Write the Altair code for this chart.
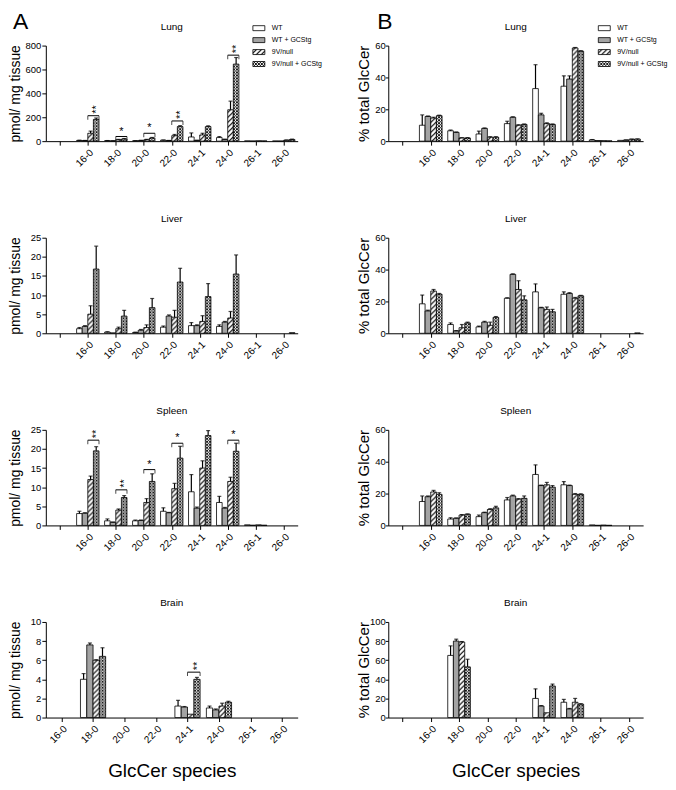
import altair as alt
import pandas as pd
import jinja2

FONT = "Liberation Sans"

categories = ["16-0", "18-0", "20-0", "22-0", "24-1", "24-0", "26-1", "26-0"]
series = ["WT", "WT + GCStg", "9V/null", "9V/null + GCStg"]
fills = ["#ffffff", "#a3a3a3", "url(#hatch9v) #cfcfcf", "url(#cross9v) #707070"]

# ---- Panel A: pmol / mg tissue (rows: WT, WT+GCStg, 9V/null, 9V/null+GCStg) ----
lung_a_mean = [[6, 4, 3, 8, 35, 30, 2, 1],
               [5, 2, 6, 5, 6, 14, 1, 1],
               [66, 12, 12, 46, 52, 263, 3, 8],
               [182, 18, 26, 122, 122, 645, 2, 14]]
lung_a_err = [[2, 1, 1, 2, 34, 8, 0, 0],
              [1, 1, 1, 1, 2, 3, 0, 0],
              [18, 3, 3, 10, 14, 72, 0, 2],
              [12, 4, 5, 8, 6, 55, 0, 3]]
lung_a_sig = [("16-0", 213, "**"), ("18-0", 39, "*"), ("20-0", 66, "*"),
              ("22-0", 169, "**"), ("24-0", 720, "**")]

liver_a_mean = [[1.2, 0.3, 0.2, 1.6, 2.0, 1.8, 0, 0],
                [1.8, 0.1, 0.8, 4.5, 2.0, 2.9, 0, 0],
                [5.0, 1.2, 1.5, 4.2, 3.1, 4.0, 0, 0],
                [16.8, 4.5, 6.7, 13.4, 9.6, 15.5, 0, 0.15]]
liver_a_err = [[0.3, 0.1, 0.1, 0.3, 0.8, 0.4, 0, 0],
               [0.2, 0, 0.2, 0.3, 0.2, 0.2, 0, 0],
               [2.2, 0.4, 0.7, 1.8, 1.5, 1.7, 0, 0],
               [6.0, 1.5, 2.4, 3.6, 3.4, 5.0, 0, 0]]
liver_a_sig = []

spleen_a_mean = [[3.1, 1.2, 1.2, 3.7, 8.8, 6.0, 0.15, 0],
                 [3.2, 0.8, 1.3, 3.3, 4.5, 4.5, 0.05, 0],
                 [12.0, 4.0, 6.0, 9.6, 15.0, 11.5, 0.15, 0],
                 [19.5, 7.3, 11.5, 17.6, 23.5, 19.4, 0.05, 0]]
spleen_a_err = [[0.6, 0.5, 0.2, 0.9, 4.5, 1.6, 0, 0],
                [0.1, 0.1, 0.1, 0.1, 0.3, 0.2, 0, 0],
                [0.9, 0.3, 1.0, 1.4, 1.9, 1.1, 0, 0],
                [1.1, 0.5, 2.0, 3.1, 1.3, 2.1, 0, 0]]
spleen_a_sig = [("16-0", 22.3, "**"), ("18-0", 9.3, "**"), ("20-0", 14.6, "*"),
                ("22-0", 21.5, "*"), ("24-0", 22.3, "*")]

brain_a_mean = [[0, 4.0, 0, 0, 1.2, 1.0, 0, 0],
                [0, 7.6, 0, 0, 1.1, 0.8, 0, 0],
                [0, 6.0, 0, 0, 0.35, 1.2, 0, 0],
                [0, 6.4, 0, 0, 4.0, 1.6, 0, 0]]
brain_a_err = [[0, 0.6, 0, 0, 0.6, 0.2, 0, 0],
               [0, 0.2, 0, 0, 0.05, 0.1, 0, 0],
               [0, 0.05, 0, 0, 0, 0.3, 0, 0],
               [0, 0.9, 0, 0, 0.2, 0.1, 0, 0]]
brain_a_sig = [("24-1", 4.75, "**")]

# ---- Panel B: % total GlcCer ----
lung_b_mean = [[10, 6.5, 4.5, 11, 33, 34.5, 0.8, 0.5],
               [15.5, 5.5, 8, 15, 16.5, 39, 0.4, 0.7],
               [14.5, 2, 2.5, 10, 11, 58.5, 0.3, 1.2],
               [16, 2, 2.5, 10.5, 10.5, 56.5, 0.2, 1.3]]
lung_b_err = [[6.5, 0.5, 1.8, 1.5, 15, 6.5, 0.2, 0],
              [0.3, 0.3, 0.3, 0.3, 1, 2, 0, 0.1],
              [0.5, 0.2, 0.3, 0.3, 0.5, 0.3, 0, 0.1],
              [0.3, 0.2, 0.3, 0.3, 0.3, 0.3, 0, 0.1]]

liver_b_mean = [[18.5, 5.5, 4, 22, 26, 24.5, 0, 0],
                [14, 1.5, 7, 37, 16, 25, 0, 0],
                [26.5, 3.5, 5, 27.5, 15, 22, 0, 0],
                [24.5, 6.5, 10, 21, 13.5, 23.5, 0, 0.2]]
liver_b_err = [[5.5, 1.0, 0.5, 0.3, 5, 1.5, 0, 0],
               [0.5, 0.2, 0.5, 0.3, 0.3, 0.5, 0, 0],
               [1.0, 2.0, 2.0, 5.5, 1.5, 0.5, 0, 0],
               [0.5, 0.5, 0.5, 2.5, 1.5, 0.3, 0, 0]]

spleen_b_mean = [[15, 4, 5.5, 16, 32, 25.5, 0.3, 0],
                 [18, 4.5, 8, 18.5, 25, 25, 0.05, 0],
                 [21, 6.5, 10, 16.5, 25.5, 19.5, 0.2, 0],
                 [19.5, 7, 11, 17, 24, 19.5, 0.05, 0]]
spleen_b_err = [[3.5, 0.8, 1.0, 1.5, 6, 2, 0, 0],
                [0.5, 0.2, 0.3, 0.5, 0.3, 0.3, 0, 0],
                [1.0, 0.3, 0.5, 0.3, 1.5, 0.5, 0, 0],
                [1.0, 0.2, 1.0, 1.5, 1.0, 0.3, 0, 0]]

brain_b_mean = [[0, 65, 0, 0, 20, 16, 0, 0],
                [0, 80, 0, 0, 12, 9, 0, 0],
                [0, 79, 0, 0, 5, 16, 0, 0],
                [0, 53, 0, 0, 33, 14, 0, 0]]
brain_b_err = [[0, 10, 0, 0, 10, 3, 0, 0],
               [0, 2, 0, 0, 0.5, 0.5, 0, 0],
               [0, 0.5, 0, 0, 0, 4, 0, 0],
               [0, 8, 0, 0, 2, 0.5, 0, 0]]

BW = 0.2  # bar width in category units


def bar_frame(mean, err, first):
    rows = []
    for k, s in enumerate(series):
        for i, c in enumerate(categories):
            v = mean[k][i]
            if v <= 0:
                continue
            centre = first + i + (k - 1.5) * BW
            rows.append({"series": s, "lo": centre - BW / 2, "hi": centre + BW / 2,
                         "mid": centre, "base": 0, "value": v, "top": v + err[k][i],
                         "err": err[k][i]})
    return pd.DataFrame(rows)


def panel(title, mean, err, sig, ymax, ystep, ytitle, ytitle_size, ytitle_x, ytick, ypad,
          first, width, xtitle, legend_x, letter, letter_x):
    n = len(categories) + first
    labels = [""] * first + categories
    label_expr = "[" + ",".join("'%s'" % l for l in labels) + "][datum.value]"
    xsc = alt.Scale(domain=[-0.5, n - 0.5], nice=False, zero=False)
    ysc = alt.Scale(domain=[0, ymax], nice=False)

    if xtitle:
        x_axis = alt.Axis(values=list(range(n)), labelExpr=label_expr, labelAngle=-45,
                          labelFlush=False, labelOverlap=False, labelPadding=2,
                          labelFontSize=10, tickSize=4,
                          title=xtitle, titleFontSize=19, titleFontWeight="normal",
                          titlePadding=17)
    else:
        x_axis = alt.Axis(values=list(range(n)), labelExpr=label_expr, labelAngle=-45,
                          labelFlush=False, labelOverlap=False, labelPadding=2,
                          labelFontSize=10, tickSize=4, title="")
    y_axis = alt.Axis(values=list(range(0, ymax + 1, ystep)), title=ytitle,
                      titleFontSize=ytitle_size, titleX=ytitle_x, titleBaseline="middle",
                      titleAlign="center", labelFlush=False, labelOverlap=False,
                      labelFontSize=9.5, tickSize=ytick, labelPadding=ypad)

    def X(field):
        return alt.X(field, type="quantitative", scale=xsc, axis=x_axis)

    def Y(field):
        return alt.Y(field, type="quantitative", scale=ysc, axis=y_axis)

    if legend_x is not None:
        leg = alt.Legend(orient="none", legendX=legend_x, legendY=-21, title=None,
                         symbolType="M-2.4,-1H2.4V1H-2.4Z", symbolSize=25,
                         symbolStrokeColor="#000000", symbolStrokeWidth=0.8,
                         labelFontSize=7, labelOffset=9.5, rowPadding=3, padding=0,
                         labelFont=FONT, labelColor="#000000")
    else:
        leg = None

    df = bar_frame(mean, err, first)
    bars = alt.Chart(df).mark_bar(stroke="#000000", strokeWidth=0.8).encode(
        x=X("lo"),
        x2="hi:Q",
        y=Y("value"),
        y2="base:Q",
        fill=alt.Fill("series:N", scale=alt.Scale(domain=series, range=fills), legend=leg),
    )
    edf = df[df["err"] > 0]
    ebar = alt.Chart(edf).mark_rule(color="#000000", strokeWidth=1.2).encode(
        x=X("mid"), y=Y("value"), y2="top:Q",
    )
    caps = alt.Chart(edf).mark_tick(orient="horizontal", size=4, thickness=1.2,
                                    color="#000000").encode(
        x=X("mid"), y=Y("top"),
    )
    layers = [bars, ebar, caps]

    if sig:
        br, legs, st1, st2 = [], [], [], []
        for cat, yb, lab in sig:
            g = first + categories.index(cat)
            xl, xr = g, g + 2 * BW
            br.append({"xl": xl, "xr": xr, "yb": yb})
            legs += [{"xe": xl, "yb": yb}, {"xe": xr, "yb": yb}]
            (st2 if lab == "**" else st1).append({"xm": (xl + xr) / 2, "yb": yb, "lab": lab})
        layers.append(alt.Chart(pd.DataFrame(br)).mark_rule(color="#000000", strokeWidth=1).encode(
            x=X("xl"), x2="xr:Q", y=Y("yb")))
        layers.append(alt.Chart(pd.DataFrame(legs)).mark_tick(
            orient="vertical", size=4, thickness=1, yOffset=2, color="#000000").encode(
            x=X("xe"), y=Y("yb")))
        if st1:
            layers.append(alt.Chart(pd.DataFrame(st1)).mark_text(
                fontSize=11, align="center", baseline="alphabetic", yOffset=-2,
                color="#000000").encode(x=X("xm"), y=Y("yb"), text="lab:N"))
        if st2:
            layers.append(alt.Chart(pd.DataFrame(st2)).mark_text(
                fontSize=11, angle=270, align="left", baseline="middle", yOffset=-2,
                xOffset=4, color="#000000").encode(x=X("xm"), y=Y("yb"), text="lab:N"))

    # panel (organ) heading
    layers.append(alt.Chart(pd.DataFrame({"t": [title]})).mark_text(
        fontSize=10, align="center", baseline="middle", color="#000000").encode(
        x=alt.value(width / 2), y=alt.value(-19), text="t:N"))

    if letter:
        layers.append(alt.Chart(pd.DataFrame({"t": [letter]})).mark_text(
            fontSize=23, align="left", baseline="alphabetic", color="#000000").encode(
            x=alt.value(letter_x), y=alt.value(-17), text="t:N"))

    return alt.layer(*layers).properties(width=width, height=96)


YA = "pmol/ mg tissue"
YB = "% total GlcCer"
WA, WB = 253, 256
A_ARGS = dict(ytitle=YA, ytitle_size=14, ytitle_x=-30, ytick=4, ypad=1, width=WA)
B_ARGS = dict(ytitle=YB, ytitle_size=15, ytitle_x=-25, ytick=3, ypad=0, width=WB)

panels = [
    panel("Lung", lung_a_mean, lung_a_err, lung_a_sig, 800, 200, first=1, xtitle=None,
          legend_x=210.5, letter="A", letter_x=-33, **A_ARGS),
    panel("Lung", lung_b_mean, lung_b_err, [], 60, 20, first=1, xtitle=None,
          legend_x=213.5, letter="B", letter_x=-11, **B_ARGS),
    panel("Liver", liver_a_mean, liver_a_err, liver_a_sig, 25, 5, first=1, xtitle=None,
          legend_x=None, letter=None, letter_x=0, **A_ARGS),
    panel("Liver", liver_b_mean, liver_b_err, [], 60, 20, first=1, xtitle=None,
          legend_x=None, letter=None, letter_x=0, **B_ARGS),
    panel("Spleen", spleen_a_mean, spleen_a_err, spleen_a_sig, 25, 5, first=1, xtitle=None,
          legend_x=None, letter=None, letter_x=0, **A_ARGS),
    panel("Spleen", spleen_b_mean, spleen_b_err, [], 60, 20, first=1, xtitle=None,
          legend_x=None, letter=None, letter_x=0, **B_ARGS),
    panel("Brain", brain_a_mean, brain_a_err, brain_a_sig, 10, 2, first=0,
          xtitle="GlcCer species", legend_x=None, letter=None, letter_x=0, **A_ARGS),
    panel("Brain", brain_b_mean, brain_b_err, [], 100, 20, first=1,
          xtitle="GlcCer species", legend_x=None, letter=None, letter_x=0, **B_ARGS),
]

chart = alt.concat(*panels, columns=2, spacing={"row": 97, "column": 91}, bounds="flush").resolve_scale(
    fill="independent", x="independent", y="independent"
).properties(padding=0).configure(font=FONT).configure_axis(
    labelFont=FONT, titleFont=FONT, labelColor="#000000",
    titleColor="#000000", titleFontWeight="normal", domainColor="#000000",
    tickColor="#000000", grid=False, domainWidth=1, tickWidth=1,
).configure_view(stroke="transparent")

PATTERN_DEFS = (
    '<svg width="0" height="0" style="position:absolute;left:0;top:0" aria-hidden="true"><defs>'
    '<pattern id="hatch9v" patternUnits="userSpaceOnUse" width="5" height="5">'
    '<rect width="5" height="5" fill="#ffffff"/>'
    '<path d="M-1,1 l2,-2 M0,5 l5,-5 M4,6 l2,-2" stroke="#000000" stroke-width="1.2"/>'
    '</pattern>'
    '<pattern id="cross9v" patternUnits="userSpaceOnUse" width="3" height="3">'
    '<rect width="3" height="3" fill="#ffffff"/>'
    '<path d="M0,0 L3,3 M3,0 L0,3" stroke="#000000" stroke-width="0.9"/>'
    '</pattern>'
    '</defs></svg>'
)

try:
    from altair.utils.html import HTML_TEMPLATE as _BASE_TEMPLATE

    class _PatternPage(jinja2.Template):
        def render(self, *args, **kwargs):
            page = _BASE_TEMPLATE.render(*args, **kwargs)
            if "<body>" in page:
                return page.replace("<body>", "<body>\n" + PATTERN_DEFS, 1)
            return PATTERN_DEFS + page

    _page_template = _PatternPage("")
except Exception:
    _page_template = None

try:
    if _page_template is None:
        raise TypeError("no template")
    chart.save("out.html", embed_options={"renderer": "svg", "actions": False},
               template=_page_template)
except Exception:
    chart.save("out.html", embed_options={"renderer": "svg", "actions": False})
